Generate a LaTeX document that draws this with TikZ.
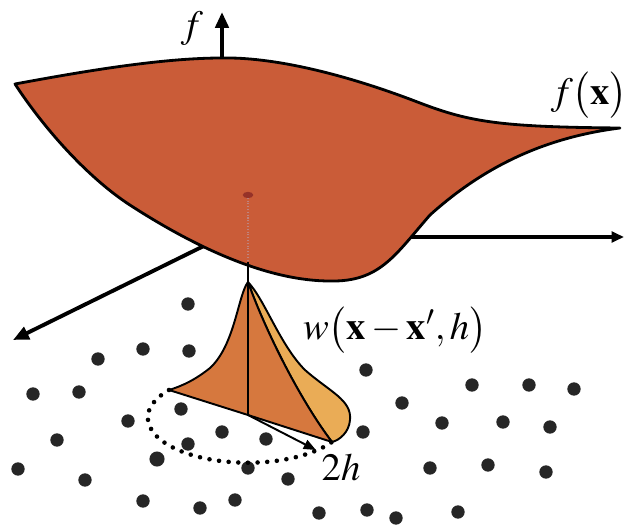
\documentclass[tikz,border=0pt]{standalone}
\usepackage{mathptmx}
\usetikzlibrary{arrows.meta}

\definecolor{rouille}{RGB}{202,92,56}
\definecolor{orangek}{RGB}{214,120,62}
\definecolor{jaunek}{RGB}{234,172,86}
\definecolor{rougef}{RGB}{150,50,40}

\begin{document}
\begin{tikzpicture}[x=0.02cm, y=-0.02cm,
    axe/.style={line width=2.2pt, -{Triangle[length=9pt,width=7.5pt]}},
    bord/.style={line width=1.6pt, line join=round},
    trait/.style={line width=1.1pt, line join=round},
    pt/.style={fill=black!85},
    lbl/.style={font=\fontsize{22}{26}\selectfont, inner sep=0pt}]
    \useasboundingbox (0,0) rectangle (628,527);

    % Axes
    \coordinate (O) at (222,237);
    \coordinate (H) at (222,12);
    \coordinate (D) at (624,237);
    \coordinate (G) at (13,340);
    \draw[axe] (O) -- (H);
    \draw[axe, -{Triangle[length=7pt,width=6pt]}] (O) -- (D);
    \draw[axe] (O) -- (G);
    \node[lbl] (lf) at (192,29) {$f$};

    % Surface f(x)
    \filldraw[bord, fill=rouille] (15,84)
        .. controls (80,72) and (160,58) .. (222,58)
        .. controls (270,57) and (340,72) .. (420,103)
        .. controls (470,122) and (500,127) .. (620,128)
        .. controls (540,138) and (480,170) .. (430,215)
        .. controls (395,255) and (380,282) .. (330,281)
        .. controls (270,281) and (200,250) .. (133,207)
        .. controls (90,180) and (45,130) .. cycle;
    \node[lbl, anchor=east] (lfx) at (628,95) {$f\bigl(\mathbf{x}\bigr)$};

    % Projection
    \coordinate (S) at (248,195);
    \coordinate (Sb) at (248,262);
    \draw[rougef!60, densely dotted, line width=0.6pt] (S) -- (Sb);
    \fill[rougef] (S) ellipse[x radius=3pt, y radius=1.8pt];

    % Points
    \foreach \x/\y in {188/304, 143/349, 189/351, 98/359, 33/394, 79/392,
        181/409, 128/421, 57/440, 222/432, 266/439, 188/444, 18/469,
        85/480, 248/468, 288/479, 143/501, 200/508, 235/500, 319/513,
        366/370, 472/385, 529/385, 574/389, 402/403, 442/423, 503/422,
        550/427, 363/432, 430/468, 488/465, 546/472, 367/510, 396/518,
        458/512}
        \fill[pt] (\x,\y) circle[radius=3.8pt];
    \fill[pt] (157,459) circle[radius=4.3pt];

    % Noyau w
    \coordinate (P) at (248,282);
    \coordinate (L) at (169,390);
    \coordinate (B) at (248,415);
    \coordinate (R) at (332,442);
    \coordinate (E) at (316,450);
    \filldraw[trait, fill=jaunek] (P)
        .. controls (265,300) and (280,345) .. (305,370)
        .. controls (330,392) and (352,400) .. (350,420)
        .. controls (349,432) and (340,440) .. (R)
        .. controls (300,400) and (265,330) .. (P);
    \filldraw[trait, fill=orangek] (P)
        .. controls (238,295) and (235,345) .. (210,368)
        .. controls (195,380) and (182,386) .. (L)
        -- (B) -- (R)
        .. controls (300,400) and (265,330) .. (P);
    \draw[trait] (Sb) -- (B);
    \draw[trait, -{Triangle[length=7pt,width=5.5pt]}] (B) -- (E);
    \draw[line width=2.6pt, line cap=round, dash pattern=on 0pt off 5.5pt]
        (L) arc[start angle=218, end angle=32, x radius=100, y radius=45];

    % Etiquettes
    \node[lbl] (lw) at (395,330) {$w\bigl(\mathbf{x}-\mathbf{x}',h\bigr)$};
    \node[lbl] (lh) at (341,467) {$2h$};
\end{tikzpicture}
\end{document}
